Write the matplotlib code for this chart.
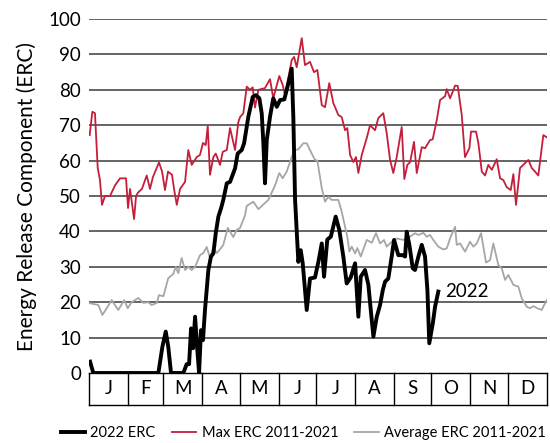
import numpy as np
import matplotlib.pyplot as plt
from matplotlib.lines import Line2D

plt.rcParams['font.family'] = ['Lato', 'DejaVu Sans']

# ============================================================
# Data (day of year, ERC value)
# ============================================================

max_days = [0.3, 2.4, 4.5, 6.7, 8.5, 10.1, 12.5, 16.5, 20.5, 24.5, 29.3, 30.9, 32.5, 35.7, 37.3,
            38.9, 42, 45.8, 48.4, 50.8, 55.6, 58, 60.4, 62.8, 66, 67.6, 69.8, 72.4, 76.4, 79,
            81.7, 85.7, 88.3, 90.7, 92.9, 94.5, 96.3, 99, 100.9, 104.3, 106.5, 109.7, 112.3,
            116.3, 118.9, 120.3, 122.9, 125.6, 128.3, 130.4, 132.2, 134.9, 140.2, 144.2, 146.8,
            151.6, 154.3, 156.2, 161.5, 163.4, 165.5, 169.5, 172.1, 176.1, 179.3, 182, 185.5,
            188.1, 191.5, 194.7, 198.7, 201.4, 204.1, 205.9, 208.1, 210.7, 212.8, 214.7, 217.4,
            221.4, 224, 228, 230.6, 234.6, 237.3, 240, 242.6, 245.3, 249.3, 251.4, 253.8, 256,
            259.1, 261.3, 265.3, 267.9, 271.9, 274, 277.3, 279.9, 283.9, 285.2, 287.9, 291.9,
            294, 297.2, 299.8, 303.3, 304.6, 308.6, 310.5, 313.2, 315.8, 318.4, 321.2, 325.1,
            327.8, 330.4, 333.1, 336.3, 338.4, 340.5, 343.7, 347.7, 350.4, 353.1, 355.7, 358.3,
            362.3, 365]
max_erc = [67.2, 73.8, 73.4, 57.9, 54.5, 47.5, 50, 50, 53, 55, 55, 46.6, 52, 43.5, 50,
           51, 52, 55.8, 52, 55.4, 59.5, 57, 51.7, 56.9, 56, 52, 47.5, 52, 54, 63,
           58.8, 61, 61.6, 65, 64.4, 69.8, 56, 61, 62, 58.8, 62.5, 63, 69.2,
           63, 70.9, 72.3, 73.4, 80.9, 80, 80.7, 75, 80, 80.5, 83, 77.6,
           83.9, 81.4, 78.5, 88.4, 89.3, 86.4, 94.6, 87, 87.9, 85, 85.6, 75.7,
           75.1, 81.9, 76.3, 72.9, 72.3, 68.6, 69.2, 61.6, 59.6, 61, 56.5, 61.6,
           66.4, 70, 68.6, 72, 73.4, 67.8, 60.2, 56.5, 61, 69.5, 54.8, 58.8, 59.6,
           65.3, 56.5, 63.8, 63.5, 65.8, 66, 71.5, 77.1, 78.2, 80.2, 77.6, 81.2,
           81.1, 72.9, 61, 63.5, 68.2, 68.2, 64.9, 56.9, 55.8, 58.8, 57.4, 60.4,
           55, 54.5, 52.5, 51.7, 56.2, 47.5, 57.9, 59.3, 60.2, 57.9, 56.9, 55.8,
           67.2, 66.6]

avg_days = [0.6, 7.2, 10.4, 13.9, 17.9, 23.1, 27.9, 30.6, 33.8, 39.1, 43.1, 47.1, 49.8, 53.8,
            55.6, 59.1, 63, 67, 69, 71, 73.7, 76.4, 79, 81.7, 84.4, 88.3, 91, 93.7, 96.3, 99,
            101.7, 105.1, 106.9, 110.5, 114.9, 117.6, 120.3, 124.3, 125.6, 130.9, 134.9, 142.9,
            145.6, 148.2, 151.6, 154.3, 157.5, 161.5, 164.2, 166.8, 170.8, 173.5, 177.5, 180.1,
            182, 185.5, 188.1, 190.7, 193.5, 198.7, 201.4, 204.1, 205.9, 207.5, 209.4, 212.1,
            213.9, 216.6, 221.4, 225.4, 228.8, 232, 235.2, 237.3, 241.3, 245.3, 250.6, 255.9,
            259.9, 262.6, 266.6, 269.3, 271.9, 274.5, 278.5, 282.5, 285.2, 288.4, 291.9, 293.2,
            295.9, 299.8, 303.8, 306.5, 309.2, 312.6, 316.6, 319.8, 322.4, 326.4, 329.1, 331.8,
            334.4, 338.4, 342.4, 345.1, 349.1, 351.7, 354.3, 357.5, 361, 362.9, 365]
avg_erc = [19.7, 19.2, 16.4, 18.3, 20.6, 17.8, 20.6, 18.3, 20, 21.2, 19.8, 20, 19.2, 19.8,
           22, 21.7, 26.8, 28, 30, 28.2, 32.5, 29.1, 30, 29.1, 30, 33.3, 33.9, 35.6, 32.5, 35.3,
           33.9, 35.3, 36.2, 41, 38.4, 40.4, 41, 44.6, 47.2, 48.4, 46.3, 48.9,
           51, 53, 56.5, 55, 56.9, 61, 63, 63.2, 64.9, 64.9, 62, 60.2,
           60, 52.2, 48.4, 49.8, 48.9, 48.9, 45.6, 41.3, 38.5, 34.3, 35.7, 33.8,
           35.3, 32.9, 37.6, 36.8, 39.5, 36.6, 37.6, 35.7, 37.1, 38, 37.6, 38.5,
           39.5, 39, 39.6, 38.5, 39, 37.6, 35.7, 34.9, 35.2, 38.5, 41.3, 36.2,
           36.6, 34.3, 37.1, 35.7, 36.6, 39.5, 31.2, 31.9, 36.6, 30.5, 29.6, 26.3,
           27.7, 24.9, 24.4, 21.1, 18.7, 18.3, 18.9, 18.3, 17.8, 19.2, 20.6]

erc_days = [0.6, 3.2, 55.1, 58.3, 61, 63, 65.2, 75, 77.7, 79.6, 81.2, 82.8, 84.4, 86, 87.6,
            89.1, 90.7, 92.3, 95, 97.1, 99, 100.9, 103, 105.1, 106.9, 109.7, 112.3, 116.3,
            118.4, 121.6, 123.5, 126.9, 130.4, 133, 135.7, 137.6, 138.9, 140.2, 141.6, 144.2,
            146.8, 149.6, 152.2, 155.6, 158.8, 161.5, 162.8, 164.2, 166.8, 168.7, 170.3, 173.5,
            176.1, 180.1, 182.8, 185.5, 187.3, 189.9, 192.7, 196.6, 199.5, 202.7, 205.4, 208.6,
            212.1, 214.7, 216.6, 220, 222.7, 224.6, 226.7, 229.4, 232, 234.2, 236, 238.6, 241.3,
            243.2, 246.6, 250.1, 252, 253.3, 255.4, 258.1, 259.9, 262.6, 265.3, 267.9, 269.8,
            271.3, 274.1, 275.9, 278.5]
erc_2022 = [3.2, 0, 0, 7.4, 11.7, 7.4, 0, 0, 2.5, 2.5, 12.6, 7, 15.9, 7.4, 0,
            12.1, 9.3, 17.8, 29.1, 32.9, 33.8, 39.5, 44.2, 46.5, 48.9, 53.6, 54, 57.8,
            62, 63, 64.9, 72.4, 78, 78.5, 77.6, 73.3, 64.9, 53.6, 65.8, 72.4,
            77.6, 75.2, 77.1, 77.3, 81.8, 86, 72.4, 48.9, 31.4, 34.7, 31, 17.8,
            26.7, 27, 31.4, 36.6, 27.2, 37.7, 38.5, 44.2, 40.4, 32.9, 25.3, 27,
            31, 15.9, 27.2, 29.1, 24.9, 17.8, 10.3, 15.9, 19.2, 23.4, 25.8, 26.7, 32.9,
            37.6, 33.3, 33.3, 32.9, 39.9, 36.2, 29.6, 29.1, 32.9, 36.2, 32.9, 23.4,
            8.4, 14, 18.7, 23]

month_labels = ['J', 'F', 'M', 'A', 'M', 'J', 'J', 'A', 'S', 'O', 'N', 'D']
month_edges = [0, 31, 59, 90, 120, 151, 181, 212, 243, 273, 304, 334, 365]

# ============================================================
# Figure
# ============================================================

fig = plt.figure(figsize=(5.5, 4.43), dpi=100)
ax = fig.add_axes([0.1624, 0.158, 0.8316, 0.799])

red = '#c41e3a'
gray = '#a6a6a6'

for v in range(10, 101, 10):
    ax.axhline(v, color='#4a4a4a', lw=1.2, zorder=1)

ax.plot(avg_days, avg_erc, color=gray, lw=1.3, zorder=2)
ax.plot(max_days, max_erc, color=red, lw=1.3, zorder=3)
ax.plot(erc_days, erc_2022, color='black', lw=2.8, zorder=4, solid_joinstyle='round')

ax.text(301.5, 23, '2022', fontsize=13.5, ha='center', va='center')

ax.set_xlim(0, 365)
ax.set_ylim(0, 100)
ax.set_yticks(range(0, 101, 10))
ax.tick_params(axis='y', length=0, labelsize=13.5, pad=6)
ax.set_xticks([])
for s in ax.spines.values():
    s.set_visible(False)

ax.set_ylabel('Energy Release Component (ERC)', fontsize=15, labelpad=8)

# month boxes below the axis
trans = ax.get_xaxis_transform()
box_bottom = -0.09
ax.plot([0, 365], [0, 0], transform=trans, color='black', lw=1, clip_on=False)
ax.plot([0, 365], [box_bottom, box_bottom], transform=trans, color='black', lw=1, clip_on=False)
for e in month_edges:
    ax.plot([e, e], [0, box_bottom], transform=trans, color='black', lw=1, clip_on=False)
for i, m in enumerate(month_labels):
    mid = (month_edges[i] + month_edges[i + 1]) / 2
    ax.text(mid, box_bottom / 2, m, transform=trans, ha='center', va='center', fontsize=13.5)

handles = [
    Line2D([], [], color='black', lw=2.8),
    Line2D([], [], color=red, lw=1.3),
    Line2D([], [], color=gray, lw=1.3),
]
fig.legend(handles, ['2022 ERC', 'Max ERC 2011-2021', 'Average ERC 2011-2021'],
           loc='center left', bbox_to_anchor=(0.11, 0.022), ncol=3, frameon=False,
           fontsize=10.5, handlelength=1.7, handletextpad=0.35, columnspacing=1.1,
           borderaxespad=0, borderpad=0)

fig.savefig('out.png', dpi=100)
